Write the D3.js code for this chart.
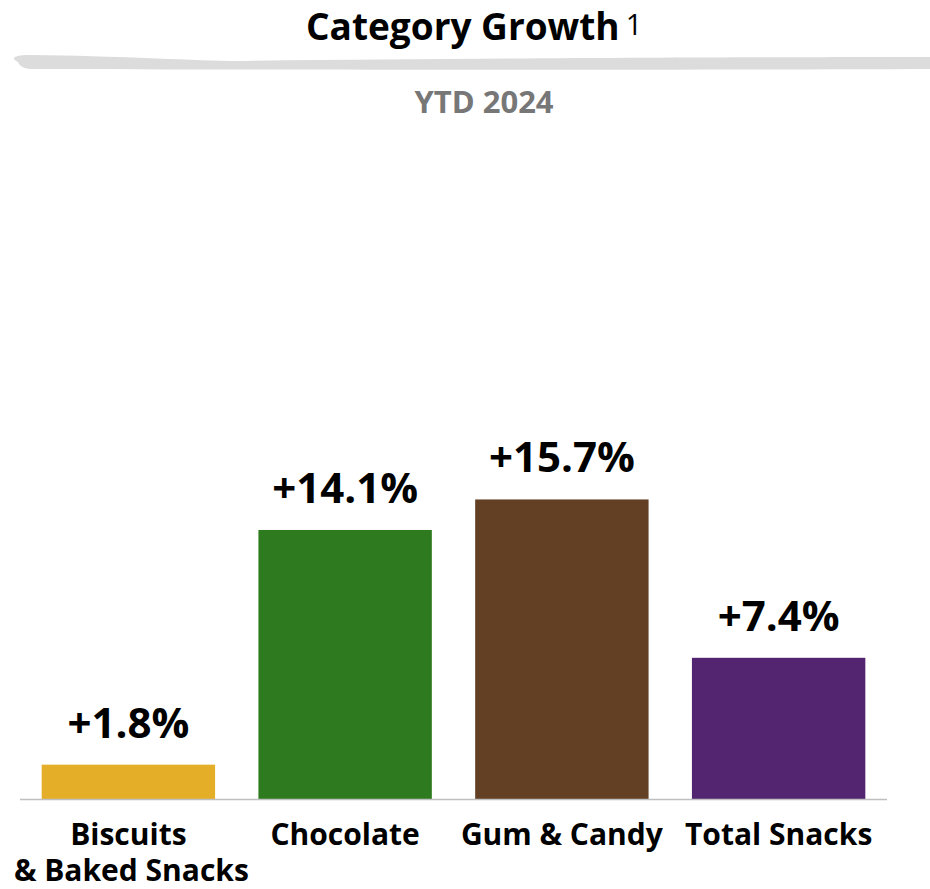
<!DOCTYPE html>
<html>
<head>
<meta charset="utf-8">
<script src="https://cdn.jsdelivr.net/npm/d3@7"></script>
<style>
  body { margin: 0; background: #fff; }
  svg { display: block; font-family: "Open Sans", sans-serif; font-weight: bold; }
</style>
</head>
<body>
<svg id="chart" width="930" height="889"></svg>
<script>
// chart values
const categories = ['Biscuits\n& Baked Snacks', 'Chocolate', 'Gum & Candy', 'Total Snacks'];
const growth = [1.8, 14.1, 15.7, 7.4];
const barColors = ['#E5AE29', '#2E7A1E', '#633F24', '#532570'];
const valueLabels = ['+1.8%', '+14.1%', '+15.7%', '+7.4%'];

const svg = d3.select('#chart');

const rows = categories.map((c, i) => ({cat: c, v: growth[i], color: barColors[i], label: valueLabels[i]}));

const x = d3.scaleBand()
    .domain(categories)
    .range([20, 887])
    .paddingInner(0.2)
    .paddingOuter(0.1);

const y = d3.scaleLinear()
    .domain([0, 20])
    .range([799, 417.4]);

// title
const title = svg.append('text')
    .attr('x', 306)
    .attr('y', 40)
    .attr('font-size', 37)
    .attr('fill', '#000');
title.append('tspan').text('Category Growth');
title.append('tspan')
    .attr('font-weight', 'normal')
    .attr('font-size', 29)
    .attr('dy', -5)
    .attr('dx', 6)
    .text('1');

// grey swoosh under the title
svg.append('path')
    .attr('d', 'M18,62 C10,58 14,55 30,55 C120,56 180,60 230,61 C500,58 800,57 930,57 L930,69 C700,70 300,70 30,69 C22,68 19,65 18,62 Z')
    .attr('fill', '#dcdcdc');

// subtitle
svg.append('text')
    .attr('x', 484)
    .attr('y', 113)
    .attr('text-anchor', 'middle')
    .attr('font-size', 31)
    .attr('fill', '#777777')
    .text('YTD 2024');

// bars
svg.append('g')
  .selectAll('rect')
  .data(rows)
  .enter().append('rect')
    .attr('x', d => x(d.cat))
    .attr('y', d => y(d.v))
    .attr('width', x.bandwidth())
    .attr('height', d => y(0) - y(d.v))
    .attr('fill', d => d.color);

// baseline
svg.append('line')
    .attr('x1', x.range()[0])
    .attr('x2', x.range()[1])
    .attr('y1', y(0) + 0.5)
    .attr('y2', y(0) + 0.5)
    .attr('stroke', '#bfbfbf')
    .attr('stroke-width', 1.5);

// value labels
svg.append('g')
  .selectAll('text')
  .data(rows)
  .enter().append('text')
    .attr('x', d => x(d.cat) + x.bandwidth() / 2)
    .attr('y', d => y(d.v) - 27)
    .attr('text-anchor', 'middle')
    .attr('font-size', 42)
    .attr('fill', '#000')
    .text(d => d.label);

// category labels
const catG = svg.append('g');
rows.forEach(d => {
  const t = catG.append('text')
      .attr('x', x(d.cat) + x.bandwidth() / 2)
      .attr('y', 845)
      .attr('text-anchor', 'middle')
      .attr('font-size', 30)
      .attr('fill', '#000');
  d.cat.split('\n').forEach((line, j) => {
    t.append('tspan')
        .attr('x', x(d.cat) + x.bandwidth() / 2 + (j ? 3 : 0))
        .attr('dy', j ? 36 : 0)
        .text(line);
  });
});
</script>
</body>
</html>
